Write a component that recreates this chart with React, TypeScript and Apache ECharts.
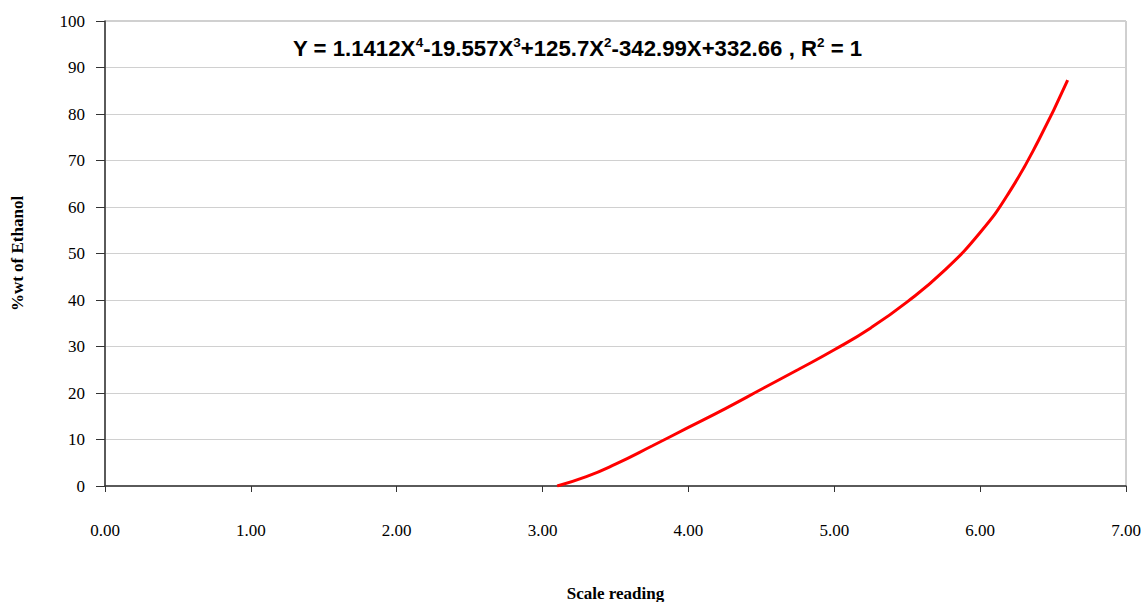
import React, { useEffect, useRef } from "react";
import * as echarts from "echarts";

const scaleReading: number[] = [3.1, 3.3, 3.5, 3.75, 4.0, 4.25, 4.5, 4.75, 5.0, 5.25, 5.5, 5.75, 6.0, 6.2, 6.4, 6.6];
const ethanolPct: number[] = [0, 2.0, 4.7, 8.6, 12.6, 16.6, 20.8, 25.0, 29.3, 34.0, 39.6, 46.2, 54.5, 63.2, 74.3, 87.3];
const xTicks: number[] = [0, 1, 2, 3, 4, 5, 6, 7];
const yTicks: number[] = [0, 10, 20, 30, 40, 50, 60, 70, 80, 90, 100];

export default function App() {
  const ref = useRef<HTMLDivElement>(null);
  useEffect(() => {
    if (!ref.current) return;
    const chart = echarts.init(ref.current, undefined, { renderer: "svg" });
    const serif = "'Liberation Serif', 'Times New Roman', serif";
    const sans = "'Liberation Sans', Arial, sans-serif";
    chart.setOption({
      animation: false,
      backgroundColor: "#ffffff",
      grid: {
        left: 105,
        right: 21,
        top: 21,
        bottom: 116,
        outerBoundsMode: "none",
        containLabel: false,
        show: true,
        borderColor: "#a0a0a0",
        borderWidth: 1,
      },
      xAxis: {
        type: "value",
        min: xTicks[0],
        max: xTicks[xTicks.length - 1],
        interval: 1,
        name: "Scale reading",
        nameLocation: "middle",
        nameGap: 99,
        nameTextStyle: { fontFamily: serif, fontWeight: "bold", fontSize: 17, color: "#000" },
        axisLine: { show: true, lineStyle: { color: "#333", width: 1.5 } },
        axisTick: { show: true, inside: false, length: 6, lineStyle: { color: "#333" } },
        axisLabel: {
          margin: 36,
          fontFamily: serif,
          fontSize: 17,
          color: "#000",
          formatter: (v: number) => v.toFixed(2),
        },
        splitLine: { show: false },
      },
      yAxis: {
        type: "value",
        min: yTicks[0],
        max: yTicks[yTicks.length - 1],
        interval: 10,
        name: "%wt of Ethanol",
        nameLocation: "middle",
        nameGap: 79,
        nameRotate: 90,
        nameTextStyle: { fontFamily: serif, fontWeight: "bold", fontSize: 17, color: "#000" },
        axisLine: { show: true, lineStyle: { color: "#333", width: 1.5 } },
        axisTick: { show: true, inside: false, length: 9, lineStyle: { color: "#333" } },
        axisLabel: { margin: 20, fontFamily: serif, fontSize: 17, color: "#000" },
        splitLine: { show: true, lineStyle: { color: "#d0d0d0", width: 1 } },
      },
      graphic: [
        {
          type: "text",
          left: 293,
          top: 35,
          style: {
            text:
              "{b|Y = 1.1412X}{s|4}{b|-19.557X}{s|3}{b|+125.7X}{s|2}{b|-342.99X+332.66 , R}{s|2}{b| = 1}",
            rich: {
              b: { fontFamily: sans, fontWeight: "bold", fontSize: 22.2, color: "#000", lineHeight: 26 },
              s: {
                fontFamily: sans,
                fontWeight: "bold",
                fontSize: 13.5,
                color: "#000",
                lineHeight: 26,
                padding: [0, 0, 12, 0],
              },
            },
          },
        },
      ],
      series: [
        {
          type: "line",
          data: scaleReading.map((x, i) => [x, ethanolPct[i]]),
          smooth: true,
          showSymbol: false,
          lineStyle: { color: "#ff0000", width: 3 },
        },
      ],
    });
    return () => chart.dispose();
  }, []);
  return <div ref={ref} style={{ width: 1147, height: 602, position: "absolute", left: 0, top: 0 }} />;
}
